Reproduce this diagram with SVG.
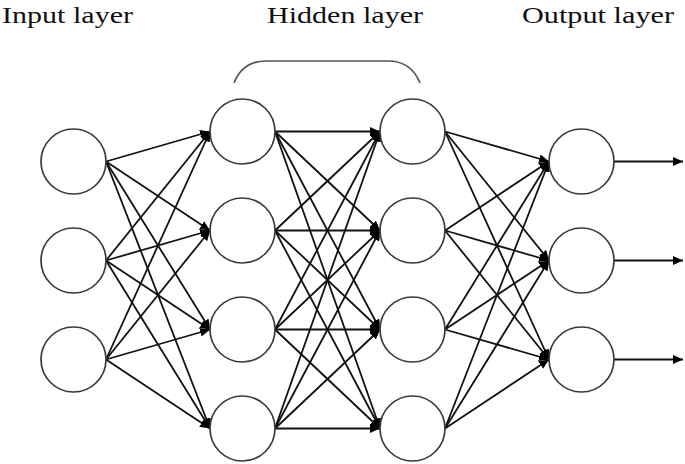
<svg xmlns="http://www.w3.org/2000/svg" width="685" height="464" viewBox="0 0 685 464">
<style>
.node{fill:#fff;stroke:#3a3a3a;stroke-width:1.7}
.edge{stroke:#111;stroke-width:1.8;fill:none;marker-end:url(#ah)}
.lbl{font-family:"Liberation Serif","Times New Roman",serif;font-size:24px;fill:#111}
.br{fill:none;stroke:#555;stroke-width:1.7}
</style>
<defs>
<marker id="ah" markerUnits="userSpaceOnUse" markerWidth="10" markerHeight="9" refX="10" refY="4.5" orient="auto">
<path d="M0,0 L10,4.5 L0,9 z" fill="#000"/>
</marker>
</defs>
<rect width="685" height="464" fill="#fff"/>
<text class="lbl" x="2" y="23" textLength="131" lengthAdjust="spacingAndGlyphs">Input layer</text>
<text class="lbl" x="267" y="23" textLength="156" lengthAdjust="spacingAndGlyphs">Hidden layer</text>
<text class="lbl" x="522" y="23" textLength="152" lengthAdjust="spacingAndGlyphs">Output layer</text>
<path class="br" d="M234,83 C240,68 250,61 266,61 L388,61 C404,61 414,68 420,83"/>
<g id="connectors">
<line class="edge" x1="106" y1="161.5" x2="210" y2="131.5"/>
<line class="edge" x1="106" y1="161.5" x2="210" y2="230.5"/>
<line class="edge" x1="106" y1="161.5" x2="210" y2="329.5"/>
<line class="edge" x1="106" y1="161.5" x2="210" y2="428.5"/>
<line class="edge" x1="106" y1="260.5" x2="210" y2="131.5"/>
<line class="edge" x1="106" y1="260.5" x2="210" y2="230.5"/>
<line class="edge" x1="106" y1="260.5" x2="210" y2="329.5"/>
<line class="edge" x1="106" y1="260.5" x2="210" y2="428.5"/>
<line class="edge" x1="106" y1="359.5" x2="210" y2="131.5"/>
<line class="edge" x1="106" y1="359.5" x2="210" y2="230.5"/>
<line class="edge" x1="106" y1="359.5" x2="210" y2="329.5"/>
<line class="edge" x1="106" y1="359.5" x2="210" y2="428.5"/>
<line class="edge" x1="275" y1="131.5" x2="380" y2="131.5"/>
<line class="edge" x1="275" y1="131.5" x2="380" y2="230.5"/>
<line class="edge" x1="275" y1="131.5" x2="380" y2="329.5"/>
<line class="edge" x1="275" y1="131.5" x2="380" y2="428.5"/>
<line class="edge" x1="275" y1="230.5" x2="380" y2="131.5"/>
<line class="edge" x1="275" y1="230.5" x2="380" y2="230.5"/>
<line class="edge" x1="275" y1="230.5" x2="380" y2="329.5"/>
<line class="edge" x1="275" y1="230.5" x2="380" y2="428.5"/>
<line class="edge" x1="275" y1="329.5" x2="380" y2="131.5"/>
<line class="edge" x1="275" y1="329.5" x2="380" y2="230.5"/>
<line class="edge" x1="275" y1="329.5" x2="380" y2="329.5"/>
<line class="edge" x1="275" y1="329.5" x2="380" y2="428.5"/>
<line class="edge" x1="275" y1="428.5" x2="380" y2="131.5"/>
<line class="edge" x1="275" y1="428.5" x2="380" y2="230.5"/>
<line class="edge" x1="275" y1="428.5" x2="380" y2="329.5"/>
<line class="edge" x1="275" y1="428.5" x2="380" y2="428.5"/>
<line class="edge" x1="445" y1="131.5" x2="549" y2="161.5"/>
<line class="edge" x1="445" y1="131.5" x2="549" y2="260.5"/>
<line class="edge" x1="445" y1="131.5" x2="549" y2="359.5"/>
<line class="edge" x1="445" y1="230.5" x2="549" y2="161.5"/>
<line class="edge" x1="445" y1="230.5" x2="549" y2="260.5"/>
<line class="edge" x1="445" y1="230.5" x2="549" y2="359.5"/>
<line class="edge" x1="445" y1="329.5" x2="549" y2="161.5"/>
<line class="edge" x1="445" y1="329.5" x2="549" y2="260.5"/>
<line class="edge" x1="445" y1="329.5" x2="549" y2="359.5"/>
<line class="edge" x1="445" y1="428.5" x2="549" y2="161.5"/>
<line class="edge" x1="445" y1="428.5" x2="549" y2="260.5"/>
<line class="edge" x1="445" y1="428.5" x2="549" y2="359.5"/>
<line class="edge" x1="614" y1="161.5" x2="683" y2="161.5"/>
<line class="edge" x1="614" y1="260.5" x2="683" y2="260.5"/>
<line class="edge" x1="614" y1="359.5" x2="683" y2="359.5"/>
</g>
<g id="in1"><circle class="node" cx="73.5" cy="161.5" r="32.5"/></g>
<g id="in2"><circle class="node" cx="73.5" cy="260.5" r="32.5"/></g>
<g id="in3"><circle class="node" cx="73.5" cy="359.5" r="32.5"/></g>
<g id="h1a"><circle class="node" cx="242.5" cy="131.5" r="32.5"/></g>
<g id="h1b"><circle class="node" cx="242.5" cy="230.5" r="32.5"/></g>
<g id="h1c"><circle class="node" cx="242.5" cy="329.5" r="32.5"/></g>
<g id="h1d"><circle class="node" cx="242.5" cy="428.5" r="32.5"/></g>
<g id="h2a"><circle class="node" cx="412.5" cy="131.5" r="32.5"/></g>
<g id="h2b"><circle class="node" cx="412.5" cy="230.5" r="32.5"/></g>
<g id="h2c"><circle class="node" cx="412.5" cy="329.5" r="32.5"/></g>
<g id="h2d"><circle class="node" cx="412.5" cy="428.5" r="32.5"/></g>
<g id="out1"><circle class="node" cx="581.5" cy="161.5" r="32.5"/></g>
<g id="out2"><circle class="node" cx="581.5" cy="260.5" r="32.5"/></g>
<g id="out3"><circle class="node" cx="581.5" cy="359.5" r="32.5"/></g>
</svg>
